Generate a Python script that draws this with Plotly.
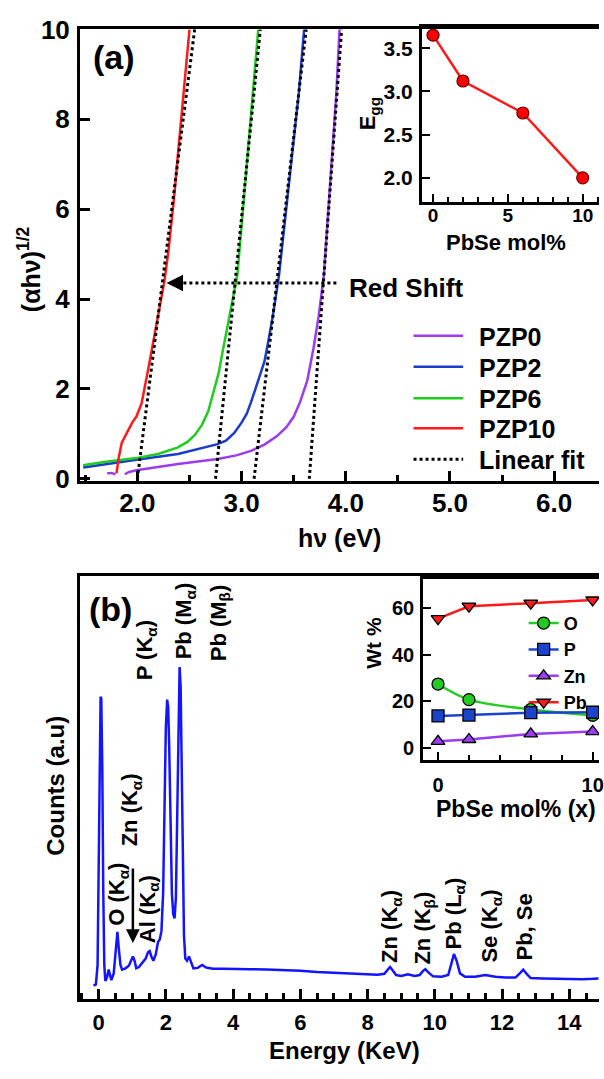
import plotly.graph_objects as go

W, H = 604, 1079
FONT = "Liberation Sans, Arial, sans-serif"

# ---------------- Panel (a): Tauc plot data ----------------
series_names = ["PZP0", "PZP2", "PZP6", "PZP10"]
series_colors = ["#9a3cf0", "#1a3ccc", "#1fcc1f", "#ff1a1a"]

pzp0_hv = [1.71, 1.75, 1.79, None, 1.88, 1.92, 1.99, 2.20, 2.39, 2.60, 2.77, 2.95, 3.09, 3.22,
           3.34, 3.43, 3.50, 3.56, 3.63, 3.69, 3.74, 3.79, 3.83, 3.87, 3.91, 3.94]
pzp0_val = [0.12, 0.13, 0.10, None, 0.10, 0.15, 0.19, 0.27, 0.33, 0.39, 0.44, 0.52, 0.62, 0.76,
            0.95, 1.15, 1.38, 1.70, 2.18, 2.90, 3.62, 4.54, 5.90, 7.24, 8.60, 10.0]

pzp2_hv = [1.48, 1.70, 2.01, 2.39, 2.77, 2.85, 2.93, 3.00, 3.05, 3.09, 3.15, 3.22, 3.26, 3.30,
           3.36, 3.42, 3.49, 3.55, 3.60]
pzp2_val = [0.25, 0.33, 0.43, 0.55, 0.77, 0.85, 1.02, 1.25, 1.45, 1.70, 2.10, 2.61, 3.10, 3.62,
            4.54, 5.80, 7.24, 8.60, 10.0]

pzp6_hv = [1.48, 1.70, 2.01, 2.20, 2.39, 2.48, 2.55, 2.62, 2.68, 2.73, 2.78, 2.82, 2.87, 2.91,
           2.96, 3.01, 3.06, 3.11, 3.16]
pzp6_val = [0.30, 0.38, 0.47, 0.55, 0.70, 0.82, 0.97, 1.20, 1.50, 1.90, 2.35, 2.85, 3.48, 4.00,
            4.54, 5.90, 7.24, 8.60, 10.0]

pzp10_hv = [1.80, 1.82, 1.85, 1.91, 1.95, 1.99, 2.04, 2.10, 2.17, 2.22, 2.26, 2.30, 2.35, 2.39,
            2.45, 2.50]
pzp10_val = [0.12, 0.45, 0.80, 1.09, 1.25, 1.38, 1.67, 2.39, 3.26, 3.85, 4.40, 5.10, 6.20, 7.24,
             8.70, 10.0]

series_hv = [pzp0_hv, pzp2_hv, pzp6_hv, pzp10_hv]
series_val = [pzp0_val, pzp2_val, pzp6_val, pzp10_val]

# linear fits: x-intercept (band gap) and hv where fit reaches 10
pbse_mol = [0, 2, 6, 10]
band_gap = [3.65, 3.12, 2.75, 2.00]
fit_hv_top = [3.96, 3.62, 3.18, 2.55]
fit_val = [0, 10]

red_shift_from = 3.91
red_shift_to = 2.28
red_shift_level = 4.36

# ---------------- Panel (b): EDS spectrum ----------------
energy = [-0.15, -0.08, -0.03, 0.00, 0.03, 0.06, 0.08, 0.11, 0.14, 0.17, 0.20, 0.25, 0.30, 0.34,
          0.38, 0.45, 0.50, 0.53, 0.56, 0.60, 0.65, 0.70, 0.80, 0.90, 0.96, 1.02, 1.07, 1.12,
          1.20, 1.30, 1.40, 1.47, 1.52, 1.57, 1.63, 1.70, 1.77, 1.82, 1.87, 1.92, 1.96, 2.00,
          2.04, 2.07, 2.10, 2.14, 2.18, 2.22, 2.26, 2.30, 2.33, 2.36, 2.39, 2.41, 2.44, 2.47,
          2.50, 2.54, 2.58, 2.63, 2.69, 2.75, 2.82, 2.95, 3.08, 3.20, 3.40, 3.70, 4.0, 4.5,
          5.0, 5.5, 6.0, 6.5, 7.0, 7.5, 8.0, 8.3, 8.5, 8.6, 8.67, 8.75, 8.85, 9.0, 9.2, 9.4,
          9.55, 9.65, 9.72, 9.8, 9.95, 10.2, 10.4, 10.5, 10.57, 10.65, 10.75, 10.9, 11.2, 11.5,
          11.8, 12.1, 12.4, 12.55, 12.63, 12.72, 12.85, 13.2, 13.6, 14.0, 14.4, 14.7, 14.87]
counts = [3.1, 3.4, 8, 35, 62, 71.5, 71, 55, 25, 8, 4.2, 5, 6.9, 5.5,
          4.4, 6, 11, 15, 15.8, 12, 8, 6.9, 7.2, 7.8, 9, 10, 9, 7.2,
          7.5, 8.5, 9.5, 11, 11.3, 10, 9, 10.5, 13.5, 14, 16, 25, 45, 64,
          70.8, 69, 60, 40, 25, 20, 19, 24, 40, 62, 77, 78.5, 74, 55,
          30, 15, 9.5, 9, 10, 8.5, 7.2, 7.3, 8, 7.4, 7.1, 7.1, 7.0, 7.0,
          6.9, 6.8, 6.6, 6.3, 6.1, 6.0, 5.8, 5.7, 5.9, 7.0, 7.5, 6.7, 5.6, 5.4, 5.8, 5.4,
          5.6, 6.6, 7.0, 6.3, 5.3, 5.2, 5.6, 8.5, 10.6, 9.0, 6.0, 5.2, 5.2, 5.6,
          5.2, 5.0, 5.0, 6.2, 6.9, 6.0, 4.9, 4.8, 4.7, 4.6, 4.6, 4.7, 4.8]

peak_labels = ["O (K<sub>α</sub>)", "Zn (K<sub>α</sub>)", "Al (K<sub>α</sub>)", "P (K<sub>α</sub>)",
               "Pb (M<sub>α</sub>)", "Pb (M<sub>β</sub>)", "Zn (K<sub>α</sub>)", "Zn (K<sub>β</sub>)",
               "Pb (L<sub>α</sub>)", "Se (K<sub>α</sub>)", "Pb, Se"]
peak_label_energy = [0.59, 0.99, 1.50, 1.40, 2.58, 3.61, 8.71, 9.68, 10.59, 11.67, 12.66]
peak_label_level = [24.7, 44.8, 21.2, 82.4, 89.4, 89.1, 17.1, 16.6, 20.1, 17.3, 16.9]
al_arrow_energy = 1.02
al_arrow_from, al_arrow_to = 31.2, 13.2

# inset (b): composition
elements = ["O", "P", "Zn", "Pb"]
wt_O = [27.4, 20.7, 16.5, 14.0]
wt_P = [13.7, 14.1, 15.1, 15.3]
wt_Zn = [2.8, 3.6, 6.0, 7.0]
wt_Pb = [55.5, 60.8, 62.1, 63.5]
wt_values = [wt_O, wt_P, wt_Zn, wt_Pb]
el_colors = ["#22cc22", "#1a44cc", "#9a3cf0", "#ff1a1a"]
el_symbols = ["circle", "square", "triangle-up", "triangle-down"]

# ---------------- helpers ----------------
def px(xp):
    return xp / W

def py(yp):
    return 1 - yp / H

def bold(size):
    return dict(family=FONT, size=size, color="black", weight="bold")

fig = go.Figure()

for name, col, xs, ys in zip(series_names, series_colors, series_hv, series_val):
    fig.add_trace(go.Scatter(x=xs, y=ys, mode="lines", name=name,
                             line=dict(color=col, width=2.5), xaxis="x", yaxis="y",
                             showlegend=False))
for eg, top in zip(band_gap, fit_hv_top):
    fig.add_trace(go.Scatter(x=[eg, top], y=fit_val, mode="lines", name="Linear fit",
                             line=dict(color="black", width=3, dash="dot"),
                             xaxis="x", yaxis="y", showlegend=False))
# red shift dotted line
fig.add_trace(go.Scatter(x=[red_shift_from, red_shift_to + 0.06],
                         y=[red_shift_level, red_shift_level], mode="lines",
                         line=dict(color="black", width=3, dash="dot"),
                         xaxis="x", yaxis="y", showlegend=False, hoverinfo="skip"))

# inset (a)
fig.add_trace(go.Scatter(x=pbse_mol, y=band_gap, mode="lines+markers",
                         line=dict(color="#ff1a1a", width=2.5),
                         marker=dict(color="#ff0000", size=12, line=dict(color="#600000", width=1.2)),
                         xaxis="x2", yaxis="y2", showlegend=False))

# spectrum
fig.add_trace(go.Scatter(x=energy, y=counts, mode="lines",
                         line=dict(color="#1414ff", width=2.5),
                         xaxis="x3", yaxis="y3", showlegend=False))

# inset (b)
for el, vals, col, sym in zip(elements, wt_values, el_colors, el_symbols):
    fig.add_trace(go.Scatter(x=pbse_mol, y=vals, mode="lines+markers", name=el,
                             line=dict(color=col, width=2.5, shape="spline" if el == "O" else "linear"),
                             marker=dict(color=col, size=12, symbol=sym,
                                         line=dict(color="black", width=1.3)),
                             xaxis="x4", yaxis="y4", legend="legend2"))

axis_common = dict(showline=True, linecolor="black", showgrid=False, zeroline=False,
                   ticks="inside", tickcolor="black", ticklabeloverflow="allow")

layout = dict(
    width=W, height=H, margin=dict(l=0, r=0, t=0, b=0),
    paper_bgcolor="white", plot_bgcolor="rgba(0,0,0,0)",
    font=dict(family=FONT, color="black"),
    xaxis=dict(axis_common, domain=[px(80.7), 1], range=[1.45, 6.43], anchor="y",
               linewidth=3, mirror=True, tick0=2, dtick=1, tickformat=".1f", ticklen=10,
               tickwidth=2.5, tickfont=bold(26), ticklabelstandoff=-3,
               minor=dict(dtick=0.5, ticklen=6, tickwidth=2.5, ticks="inside", tickcolor="black")),
    yaxis=dict(axis_common, domain=[py(479), py(15)], range=[-0.05, 10.02], anchor="x",
               linewidth=3, dtick=2, ticklen=10, tickwidth=2.5, tickfont=bold(26),
               ticklabelstandoff=2),
    xaxis2=dict(axis_common, domain=[px(425.5), 1], range=[-0.74, 11.09], anchor="y2",
                linewidth=3, mirror=True, dtick=5, ticklen=8, tickwidth=2, tickfont=bold(19),
                ticklabelstandoff=-6,
                minor=dict(dtick=1, ticklen=5, tickwidth=2, ticks="inside", tickcolor="black")),
    yaxis2=dict(axis_common, domain=[py(193.3), py(13.3)], range=[1.715, 3.745], anchor="x2",
                linewidth=3, dtick=0.5, tickformat=".1f", ticklen=8, tickwidth=2,
                tickfont=bold(21), ticklabelstandoff=2),
    xaxis3=dict(axis_common, domain=[px(80.9), 1], range=[-0.546, 14.885], anchor="y3",
                linewidth=3, mirror=True, dtick=2, ticklen=10, tickwidth=2.5, tickfont=bold(22),
                ticklabelstandoff=2,
                minor=dict(dtick=0.5, ticklen=6, tickwidth=2.5, ticks="inside", tickcolor="black")),
    yaxis3=dict(showline=True, linecolor="black", linewidth=3, showgrid=False, zeroline=False,
                ticks="", showticklabels=False, domain=[py(1010), py(576.7)], range=[0, 100],
                anchor="x3"),
    xaxis4=dict(axis_common, domain=[px(426.7), 1], range=[-0.96, 10.41], anchor="y4",
                linewidth=3, mirror=True, dtick=10, ticklen=8, tickwidth=2, tickfont=bold(20),
                ticklabelstandoff=5,
                minor=dict(dtick=2, ticklen=5, tickwidth=2, ticks="inside", tickcolor="black")),
    yaxis4=dict(axis_common, domain=[py(765), py(580)], range=[-5.15, 72.3], anchor="x4",
                linewidth=3, dtick=20, ticklen=8, tickwidth=2, tickfont=bold(20),
                ticklabelstandoff=2),
    legend2=dict(x=px(528), y=py(606), xanchor="left", yanchor="top", bgcolor="rgba(0,0,0,0)",
                 borderwidth=0, font=bold(18), itemwidth=30, tracegroupgap=0),
)
fig.update_layout(**layout)

ann = []
def text(t, xp, yp, size, angle=0, xanchor="center", yanchor="middle"):
    ann.append(dict(text=t, x=px(xp), y=py(yp), xref="paper", yref="paper", showarrow=False,
                    font=bold(size), textangle=angle, xanchor=xanchor, yanchor=yanchor))

text("(a)", 115, 44, 34)
text("(b)", 111, 610, 34)
text("hν (eV)", 342, 537, 25)
text("(αhν)<sup>1/2</sup>", 30, 262, 25, angle=-90)
text("E<sub>gg</sub>", 373, 102, 22, angle=-90)
text("PbSe mol%", 510, 234, 22)
text("Red Shift", 350, 281, 26, xanchor="left")
text("Energy (KeV)", 347, 1063, 24)
text("Counts (a.u)", 56, 792, 24, angle=-90)
text("Wt %", 377, 645, 21, angle=-90)
text("PbSe mol% (x)", 520, 815, 23)

# legend (a)
leg_names = series_names + ["Linear fit"]
leg_colors = series_colors + ["black"]
leg_y = [330, 361.7, 394, 425, 456.7]
shapes = []
for nm, col, yy in zip(leg_names, leg_colors, leg_y):
    shapes.append(dict(type="line", xref="paper", yref="paper", x0=px(417), x1=px(467),
                       y0=py(yy), y1=py(yy),
                       line=dict(color=col, width=3 if nm == "Linear fit" else 2.5,
                                 dash="dot" if nm == "Linear fit" else "solid")))
    text(nm, 481, yy + 1, 25, xanchor="left")

# red shift arrow head
ann.append(dict(x=red_shift_to, y=red_shift_level, ax=red_shift_to + 0.12, ay=red_shift_level,
                xref="x", yref="y", axref="x", ayref="y", text="", showarrow=True,
                arrowhead=2, arrowsize=1.1, arrowwidth=3, arrowcolor="black"))

# peak labels (b)
for lab, e, lv in zip(peak_labels, peak_label_energy, peak_label_level):
    ann.append(dict(text=lab, x=e, y=lv, xref="x3", yref="y3", showarrow=False,
                    font=bold(22), textangle=-90, xanchor="center", yanchor="middle"))
ann.append(dict(x=al_arrow_energy, y=al_arrow_to, ax=al_arrow_energy, ay=al_arrow_from,
                xref="x3", yref="y3", axref="x3", ayref="y3", text="", showarrow=True,
                arrowhead=2, arrowsize=1.1, arrowwidth=2.5, arrowcolor="black"))

fig.update_layout(annotations=ann, shapes=shapes)
fig.write_html("out.html")
